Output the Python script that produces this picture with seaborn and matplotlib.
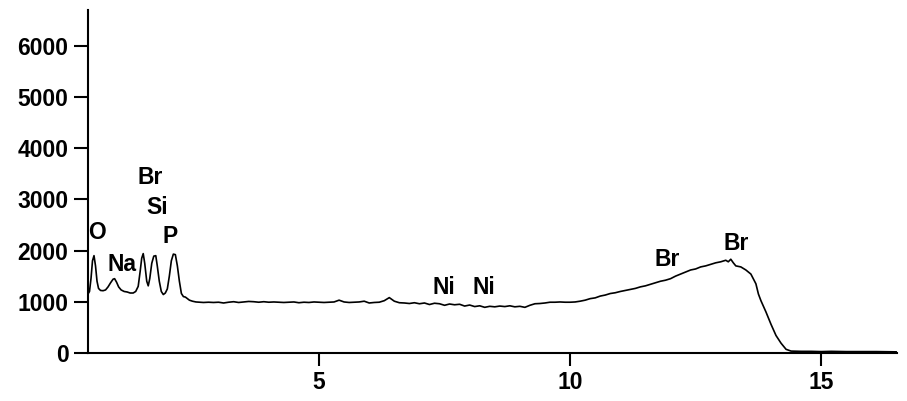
import matplotlib
matplotlib.use("Agg")
import matplotlib.pyplot as plt
import seaborn as sns
import pandas as pd

# Energy (keV) and counts
energy = [0.40, 0.43, 0.46, 0.49, 0.52, 0.55, 0.58, 0.61, 0.65, 0.70, 0.75, 0.80, 0.85, 0.90, 0.93,
          0.97, 1.01, 1.06, 1.12, 1.18, 1.24, 1.30, 1.35, 1.40, 1.44, 1.47, 1.50, 1.53, 1.57, 1.60,
          1.63, 1.67, 1.71, 1.75, 1.78, 1.82, 1.86, 1.90, 1.94, 1.98, 2.02, 2.06, 2.10, 2.14, 2.18,
          2.22, 2.26, 2.30, 2.34, 2.38, 2.42, 2.48, 2.55, 2.62,
          2.7, 2.8, 2.9, 3.0, 3.1, 3.2, 3.3, 3.4, 3.5, 3.6, 3.7, 3.8, 3.9, 4.0, 4.1, 4.2, 4.3, 4.4,
          4.5, 4.6, 4.7, 4.8, 4.9, 5.0, 5.1, 5.2, 5.3, 5.4, 5.5, 5.6, 5.7, 5.8, 5.9, 6.0, 6.1, 6.2,
          6.3, 6.4, 6.5, 6.6, 6.7, 6.8, 6.9, 7.0, 7.1, 7.2, 7.3, 7.4, 7.5, 7.6, 7.7, 7.8, 7.9, 8.0,
          8.1, 8.2, 8.3, 8.4, 8.5, 8.6, 8.7, 8.8, 8.9, 9.0, 9.1, 9.2, 9.3, 9.4, 9.5, 9.6, 9.7, 9.8,
          9.9, 10.0, 10.1, 10.2, 10.3, 10.4, 10.5, 10.6, 10.7, 10.8, 10.9, 11.0, 11.1, 11.2, 11.3,
          11.4, 11.5, 11.6, 11.7, 11.8, 11.9, 12.0, 12.1, 12.2, 12.3, 12.4, 12.5, 12.6, 12.7, 12.8,
          12.9, 13.0, 13.1, 13.15, 13.2, 13.25, 13.3, 13.4, 13.5, 13.6, 13.7, 13.75, 13.8, 13.9,
          14.0, 14.1, 14.2, 14.3, 14.4, 14.6, 14.8, 15.0, 15.2, 15.5, 15.8, 16.1, 16.4, 16.5]
counts = [1150, 1200, 1450, 1800, 1900, 1700, 1400, 1260, 1220, 1215, 1230, 1290, 1370, 1440, 1450,
          1380, 1290, 1230, 1200, 1190, 1170, 1170, 1200, 1300, 1600, 1850, 1940, 1750, 1400, 1310,
          1450, 1750, 1890, 1900, 1700, 1400, 1200, 1140, 1170, 1250, 1500, 1800, 1930, 1920, 1700,
          1400, 1160, 1100, 1090, 1060, 1030, 1010, 995, 990,
          985, 990, 985, 990, 975, 990, 1000, 985, 995, 1005, 1000, 990, 1000, 990, 995, 990, 985, 990,
          995, 980, 990, 985, 995, 990, 985, 990, 995, 1030, 995, 985, 990, 995, 1010, 975, 985, 990,
          1020, 1080, 1010, 980, 975, 965, 980, 960, 975, 945, 970, 960, 930, 955, 940, 950, 915, 935,
          905, 920, 890, 910, 900, 915, 905, 920, 900, 910, 890, 930, 960, 965, 975, 990, 990, 995,
          990, 990, 995, 1010, 1030, 1060, 1075, 1110, 1130, 1160, 1175, 1200, 1220, 1240, 1260,
          1290, 1310, 1340, 1370, 1400, 1420, 1450, 1500, 1540, 1580, 1620, 1640, 1680, 1700, 1730,
          1760, 1780, 1810, 1780, 1830, 1760, 1700, 1680, 1620, 1540, 1350, 1150, 1020, 800,
          560, 340, 190, 70, 35, 30, 30, 25, 30, 25, 25, 25, 20, 20]

# Peak labels
label_text = ["O", "Na", "Br", "Si", "P", "Ni", "Ni", "Br", "Br"]
label_x = [0.58, 1.08, 1.63, 1.77, 2.03, 7.49, 8.29, 11.93, 13.31]
label_y = [2350, 1725, 3430, 2840, 2270, 1275, 1275, 1820, 2140]

x_ticks = [5, 10, 15]
y_ticks = [0, 1000, 2000, 3000, 4000, 5000, 6000]

sns.set_style("ticks")
plt.rcParams["font.family"] = ["Liberation Sans", "DejaVu Sans"]
plt.rcParams["font.weight"] = "bold"
plt.rcParams["text.color"] = "black"
plt.rcParams["xtick.color"] = "black"
plt.rcParams["ytick.color"] = "black"
plt.rcParams["axes.edgecolor"] = "black"

fig = plt.figure(figsize=(9.07, 4.01), dpi=100)
ax = fig.add_axes([0.097, 0.12, 0.892, 0.855])

df = pd.DataFrame({"energy": energy, "counts": counts})
sns.lineplot(data=df, x="energy", y="counts", ax=ax, color="black", linewidth=1.2, sort=False)

for t, x, y in zip(label_text, label_x, label_y):
    ax.text(x, y, t, ha="center", va="center", fontsize=16.5, fontweight="bold", color="black")

ax.set_xlim(0.40, 16.51)
ax.set_ylim(0, 6700)
ax.set_xticks(x_ticks)
ax.set_yticks(y_ticks)
ax.set_xticklabels([str(v) for v in x_ticks], fontsize=16.5, fontweight="bold", color="black")
ax.set_yticklabels([str(v) for v in y_ticks], fontsize=16.5, fontweight="bold", color="black")
ax.set_xlabel("")
ax.set_ylabel("")
ax.tick_params(axis="x", length=9, width=1.5, pad=4, color="black")
ax.tick_params(axis="y", length=10, width=1.5, pad=4, color="black")
sns.despine(ax=ax)
for s in ["left", "bottom"]:
    ax.spines[s].set_linewidth(1.5)
    ax.spines[s].set_color("black")

fig.savefig("out.png", dpi=100)
